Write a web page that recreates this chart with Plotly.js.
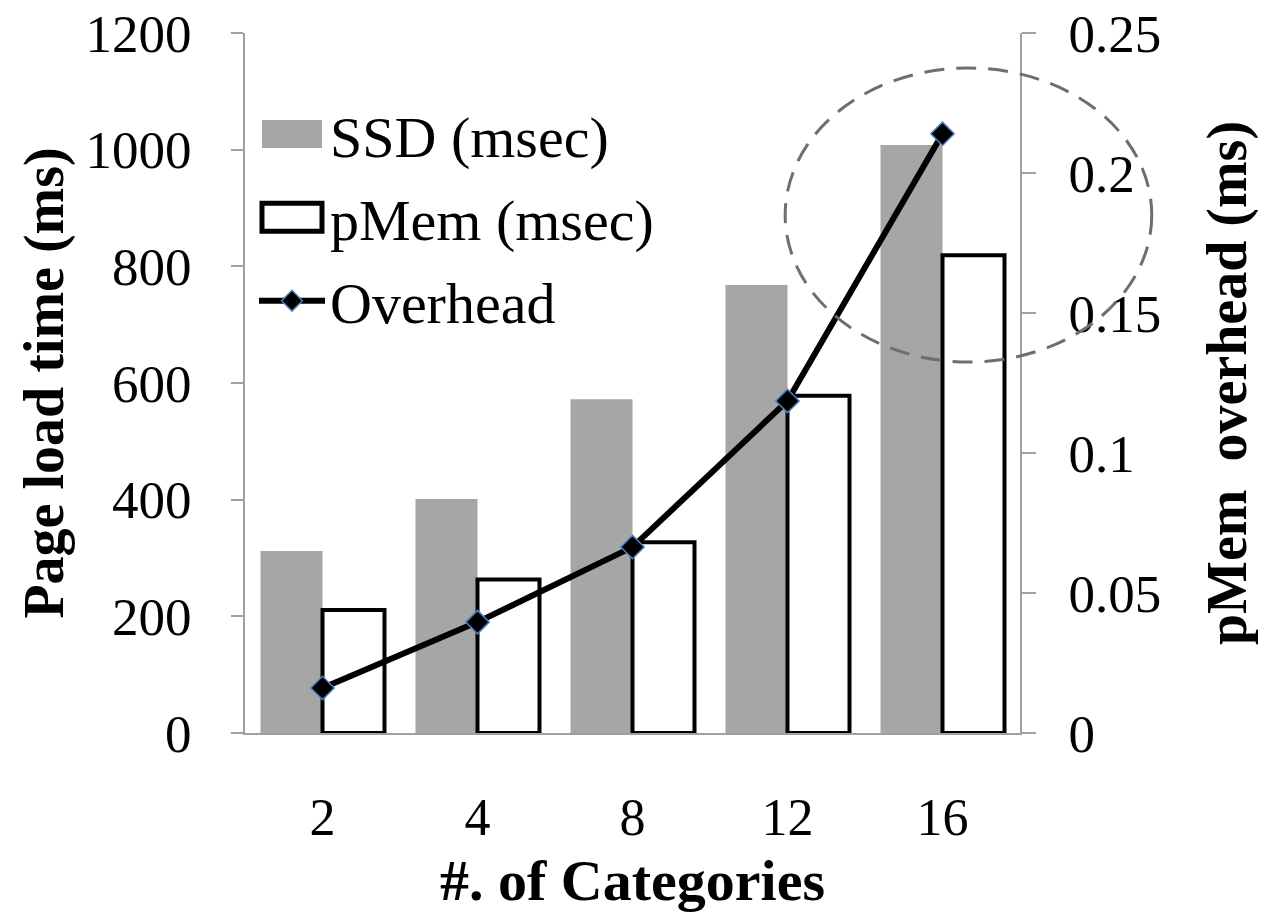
<!DOCTYPE html>
<html>
<head>
<meta charset="utf-8">
<script src="https://cdn.plot.ly/plotly-3.0.1.min.js"></script>
<style>html,body{margin:0;padding:0;background:#fff;}#chart{width:1266px;height:920px;}</style>
</head>
<body>
<div id="chart"></div>
<script>
const categories = ['2', '4', '8', '12', '16'];
const ssdMsec = [312, 401, 572, 768, 1008];
const pmemMsec = [211, 263, 327, 578, 819];
const overhead = [0.0161, 0.0396, 0.0664, 0.1186, 0.214];
// highlight ellipse around the last point, in paper fractions of the plot area
const highlightX = [0.697, 1.170];
const highlightY = [0.530, 0.950];

const FONT = 'Liberation Serif, Times New Roman, serif';
const AXISGREY = '#a0a0a0';

const traces = [
  {
    type: 'bar', name: 'SSD (msec)', x: categories, y: ssdMsec,
    marker: {color: '#a6a6a6', line: {width: 0}},
    legendgroup: 'a'
  },
  {
    type: 'bar', name: 'pMem (msec)', x: categories, y: pmemMsec,
    marker: {color: '#ffffff', line: {color: '#000000', width: 4}},
    legendgroup: 'b'
  },
  {
    type: 'scatter', mode: 'lines+markers', name: 'Overhead', x: categories, y: overhead,
    yaxis: 'y2',
    line: {color: '#000000', width: 6},
    marker: {symbol: 'diamond', size: 18, color: '#000000', line: {color: '#4f81bd', width: 1.5}},
    legendgroup: 'c'
  }
];

const layout = {
  width: 1266, height: 920,
  margin: {l: 245, r: 246, t: 33, b: 187, pad: 0},
  paper_bgcolor: '#ffffff', plot_bgcolor: '#ffffff',
  font: {family: FONT, color: '#000000', size: 52},
  barmode: 'group', bargap: 0.2, bargroupgap: 0,
  showlegend: true,
  legend: {
    x: 0.0116, y: 0.919, xanchor: 'left', yanchor: 'top',
    bgcolor: 'rgba(0,0,0,0)', borderwidth: 0,
    font: {family: FONT, size: 58, color: '#000000'},
    traceorder: 'grouped', tracegroupgap: 5, itemwidth: 66
  },
  xaxis: {
    type: 'category', range: [-0.5, 4.5], autorange: false,
    showline: true, linecolor: AXISGREY, linewidth: 2,
    showgrid: false, zeroline: false,
    ticks: '', ticklabelstandoff: 38,
    tickfont: {family: FONT, size: 52, color: '#000000'},
    title: {text: '<b>#. of Categories</b>', font: {family: FONT, size: 58, color: '#000000'}, standoff: 14}
  },
  yaxis: {
    range: [0, 1200], dtick: 200,
    showline: true, linecolor: AXISGREY, linewidth: 2,
    showgrid: false, zeroline: false,
    ticks: 'outside', ticklen: 12, tickwidth: 2, tickcolor: AXISGREY,
    ticklabelstandoff: 29,
    tickfont: {family: FONT, size: 53, color: '#000000'},
    title: {text: '<b>Page load time (ms)</b>', font: {family: FONT, size: 56, color: '#000000'}, standoff: 4}
  },
  yaxis2: {
    overlaying: 'y', side: 'right',
    range: [0, 0.25], dtick: 0.05,
    showline: true, linecolor: AXISGREY, linewidth: 2,
    showgrid: false, zeroline: false,
    ticks: 'outside', ticklen: 14, tickwidth: 2, tickcolor: AXISGREY,
    ticklabelstandoff: 22,
    tickfont: {family: FONT, size: 53, color: '#000000'},
    title: {text: '<b>pMem  overhead (ms)</b>', font: {family: FONT, size: 56, color: '#000000'}, standoff: 46}
  },
  shapes: [{
    type: 'circle', xref: 'paper', yref: 'paper',
    x0: highlightX[0], x1: highlightX[1], y0: highlightY[0], y1: highlightY[1],
    line: {color: '#6e6e6e', width: 3, dash: '20px,12px'},
    fillcolor: 'rgba(0,0,0,0)', layer: 'above'
  }]
};

function fixLegend(gd) {
  // enlarge legend keys to resemble the original chart's legend
  gd.querySelectorAll('.legend .legendpoints path').forEach(function (p) {
    const cls = p.getAttribute('class') || '';
    if (cls.indexOf('legendbar') >= 0 || cls.indexOf('legendundefined') >= 0) {
      p.setAttribute('d', 'M30,14H-30V-14H30Z');
      const stroke = p.style.stroke;
      if (stroke && stroke !== 'none' && p.style.strokeWidth && parseFloat(p.style.strokeWidth) > 0) {
        p.style.strokeWidth = '5px';
      }
    } else if (cls.indexOf('js-line') >= 0) {
      if (!p.dataset.fixed) {
        const b = p.getBBox();
        const c = b.x + b.width / 2;
        p.setAttribute('d', 'M' + (c - 33) + ',0h66');
        p.dataset.fixed = '1';
      }
    }
  });
}

Plotly.newPlot('chart', traces, layout, {displayModeBar: false, staticPlot: true}).then(function (gd) {
  fixLegend(gd);
  gd.on('plotly_afterplot', function () { fixLegend(gd); });
  setTimeout(function () { fixLegend(gd); }, 50);
});
</script>
</body>
</html>
